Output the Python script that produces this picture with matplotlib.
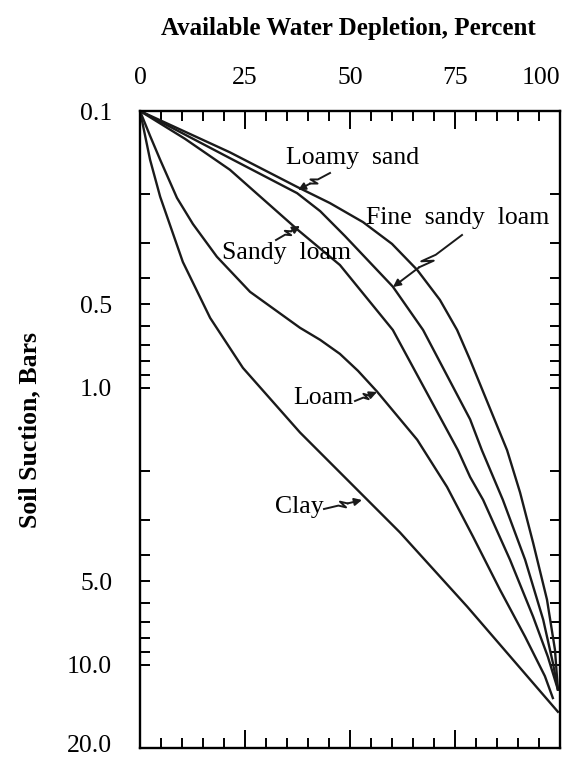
import matplotlib
matplotlib.use("Agg")
import matplotlib.pyplot as plt
from matplotlib.lines import Line2D
from matplotlib.patches import FancyArrowPatch
from matplotlib.ticker import FixedLocator, NullFormatter
from matplotlib.transforms import ScaledTranslation
import math

plt.rcParams["font.family"] = ["Liberation Serif", "DejaVu Serif"]

# depletion (%) vs soil suction (bars)
loamy_sand_dep = [0, 21.4, 37.4, 45.2, 53.1, 60.0, 66.0, 71.4, 75.5, 78.6, 87.4, 90.5, 93.6, 96.9, 98.8, 99.5]
loamy_sand_suc = [0.10, 0.141, 0.188, 0.215, 0.252, 0.302, 0.375, 0.481, 0.618, 0.793, 1.68, 2.39, 3.63, 5.82, 8.83, 12.3]

fine_sandy_loam_dep = [0, 21.4, 37.4, 42.9, 48.8, 60.2, 67.4, 78.6, 81.4, 86.4, 91.7, 96.0, 98.3, 99.5]
fine_sandy_loam_suc = [0.10, 0.148, 0.198, 0.230, 0.283, 0.431, 0.618, 1.30, 1.68, 2.54, 4.18, 6.88, 9.84, 12.3]

sandy_loam_dep = [0, 10.7, 21.4, 37.6, 47.6, 60.2, 75.7, 78.6, 81.7, 88.1, 93.6, 97.1, 99.5]
sandy_loam_suc = [0.10, 0.126, 0.163, 0.269, 0.360, 0.618, 1.68, 2.10, 2.54, 4.18, 6.71, 9.35, 12.3]

loam_dep = [0, 2.4, 4.8, 8.8, 12.6, 18.3, 26.2, 38.1, 42.9, 47.6, 51.9, 56.4, 66.0, 73.1, 79.3, 85.7, 91.7, 96.4, 98.3]
loam_suc = [0.10, 0.123, 0.150, 0.206, 0.256, 0.336, 0.450, 0.607, 0.671, 0.754, 0.868, 1.03, 1.54, 2.28, 3.45, 5.36, 7.93, 11.0, 13.2]

clay_dep = [0, 2.4, 4.8, 10.2, 16.7, 24.5, 38.1, 61.9, 77.9, 99.5]
clay_suc = [0.10, 0.150, 0.204, 0.351, 0.559, 0.847, 1.45, 3.33, 6.17, 14.8]

x_major = [0, 25, 50, 75, 100]
x_minor = [v for v in range(0, 101, 5) if v % 25]
y_major = [0.1, 0.5, 1.0, 5.0, 10.0, 20.0]
y_major_labels = ["0.1", "0.5", "1.0", "5.0", "10.0", "20.0"]
y_minor = [0.2, 0.3, 0.4, 0.6, 0.7, 0.8, 0.9, 2, 3, 4, 6, 7, 8, 9]

W, H = 575, 759
def P(x, y):
    return (x / W, 1 - y / H)

fig = plt.figure(figsize=(W / 100, H / 100), dpi=100)
ax = fig.add_axes([140 / W, 1 - 748 / H, 420 / W, 637 / H])

for d, s in [(loamy_sand_dep, loamy_sand_suc), (fine_sandy_loam_dep, fine_sandy_loam_suc),
             (sandy_loam_dep, sandy_loam_suc), (loam_dep, loam_suc), (clay_dep, clay_suc)]:
    ax.plot(d, s, color="#1a1a1a", lw=1.7, solid_joinstyle="round")

ax.set_yscale("log")
ax.set_xlim(0, 100)
ax.set_ylim(20, 0.1)
for sp in ax.spines.values():
    sp.set_linewidth(1.7)

ax.xaxis.set_major_locator(FixedLocator(x_major))
ax.xaxis.set_minor_locator(FixedLocator(x_minor))
ax.set_xticklabels([str(v) for v in x_major])
ax.tick_params(axis="x", which="both", direction="in", top=True, bottom=True,
               labeltop=True, labelbottom=False, width=1.4, labelsize=18.5, pad=16)
ax.tick_params(axis="x", which="major", length=13)
ax.tick_params(axis="x", which="minor", length=7)
ticks = ax.xaxis.get_major_ticks()
ticks[-1].label2.set_horizontalalignment("right")

ax.yaxis.set_major_locator(FixedLocator(y_major))
ax.yaxis.set_minor_locator(FixedLocator(y_minor))
ax.set_yticklabels(y_major_labels)
ax.yaxis.set_minor_formatter(NullFormatter())
ax.tick_params(axis="y", which="both", direction="in", left=True, right=True,
               length=7, width=1.4, labelsize=18.5, pad=20)
last = ax.yaxis.get_major_ticks()[-1].label1
last.set_transform(last.get_transform() + ScaledTranslation(0, 4 / 100, fig.dpi_scale_trans))

fig.text(*P(348, 29), "Available Water Depletion, Percent", ha="center", va="center",
         fontsize=18, fontweight="bold")
fig.text(*P(30, 430), "Soil Suction, Bars", ha="center", va="center", rotation=90,
         fontsize=18.5, fontweight="bold")

def leader(x0, y0, x1, y1, k=3.5):
    dx, dy = x1 - x0, y1 - y0
    L = math.hypot(dx, dy)
    ux, uy = dx / L, dy / L
    nx, ny = -uy, ux
    def at(f, o=0.0):
        return (x0 + f * dx + o * nx, y0 + f * dy + o * ny)
    pts = [(x0, y0), at(0.38), at(0.56, k), at(0.44, -k), at(0.62)]
    xs = [p[0] / W for p in pts]
    ys = [1 - p[1] / H for p in pts]
    fig.add_artist(Line2D(xs, ys, transform=fig.transFigure, color="#1a1a1a", lw=1.4))
    fig.add_artist(FancyArrowPatch(P(*pts[-1]), P(x1, y1), transform=fig.transFigure,
                                   arrowstyle="-|>", mutation_scale=11, lw=1.4,
                                   color="#1a1a1a", shrinkA=0, shrinkB=0))

labels = [
    ("Loamy  sand", 353, 158, (330, 173, 298, 190)),
    ("Fine  sandy  loam", 458, 218, (462, 235, 393, 287)),
    ("Sandy  loam", 287, 253, (276, 240, 300, 226)),
    ("Loam", 323, 398, (355, 401, 377, 392)),
    ("Clay", 299, 507, (324, 509, 362, 500)),
]
for txt, tx, ty, arr in labels:
    fig.text(*P(tx, ty), txt, ha="center", va="center", fontsize=18.5)
    leader(*arr)

fig.savefig("out.png", dpi=100)
